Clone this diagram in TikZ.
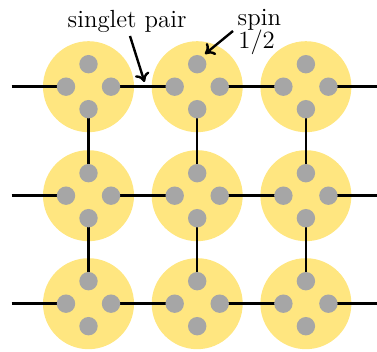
\documentclass[tikz,border=0pt]{standalone}
\usetikzlibrary{arrows.meta}
\definecolor{sitecol}{HTML}{FFE680}
\definecolor{spincol}{HTML}{A6A6A6}
\pgfdeclarelayer{bg}
\pgfdeclarelayer{mid}
\pgfsetlayers{bg,mid,main}
\begin{document}
\begin{tikzpicture}[x=0.5pt,y=-0.5pt,
  site/.style={circle,fill=sitecol,minimum size=45.5pt,inner sep=0pt},
  spindot/.style={circle,fill=spincol,minimum size=9.2pt,inner sep=0pt},
  bond/.style={line width=1.3pt},
  pointer/.style={line width=1.2pt,-{To[length=4.5pt,width=7.5pt]}},
  lbl/.style={font=\fontsize{12.4}{14}\selectfont,inner sep=0pt,anchor=base west}]
\useasboundingbox (0,0) rectangle (377,352);
\foreach \i/\cx in {0/88.5,1/197.2,2/305.9}{
  \foreach \j/\cy in {0/86.7,1/195.7,2/303.7}{
    \begin{pgfonlayer}{bg}
      \node[site] (c\i\j) at (\cx,\cy) {};
    \end{pgfonlayer}
    \node[spindot] (T\i\j) at (\cx,\cy-22.5) {};
    \node[spindot] (B\i\j) at (\cx,\cy+22.5) {};
    \node[spindot] (L\i\j) at (\cx-22.5,\cy) {};
    \node[spindot] (R\i\j) at (\cx+22.5,\cy) {};
  }
}
\begin{pgfonlayer}{mid}
\foreach \j/\cy in {0/86.7,1/195.7,2/303.7}{
  \coordinate (w\j) at (11.7,\cy);
  \coordinate (e\j) at (377,\cy);
  \draw[bond] (w\j) -- (L0\j.center);
  \draw[bond] (R0\j.center) -- (L1\j.center);
  \draw[bond] (R1\j.center) -- (L2\j.center);
  \draw[bond] (R2\j.center) -- (e\j);
}
\foreach \i in {0,1,2}{
  \draw[bond] (B\i0.center) -- (T\i1.center);
  \draw[bond] (B\i1.center) -- (T\i2.center);
}
\end{pgfonlayer}
\node[lbl] (singlet) at (67.3,27.3) {singlet pair};
\node[lbl] (spinlbl) at (237.3,26) {spin};
\node[lbl] (half) at (238,48.3) {1/2};
\coordinate (sa) at (130,36);
\coordinate (sb) at (144.5,82);
\coordinate (pa) at (233,31);
\coordinate (pb) at (205,54);
\draw[pointer] (sa) -- (sb);
\draw[pointer] (pa) -- (pb);
\end{tikzpicture}
\end{document}
